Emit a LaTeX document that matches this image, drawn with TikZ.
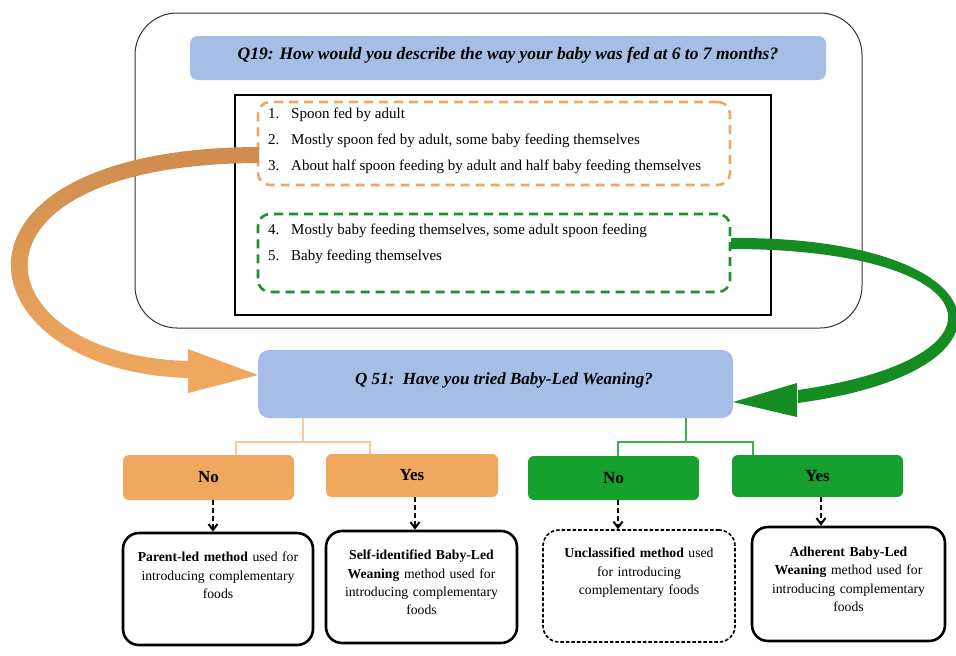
\documentclass[tikz,border=0pt]{standalone}
\usepackage{fontspec}
\setmainfont{Liberation Serif}
\usetikzlibrary{arrows.meta}
\definecolor{qblue}{HTML}{A6BEE6}
\definecolor{orng}{HTML}{F0A860}
\definecolor{orngdark}{HTML}{CF8C4E}
\definecolor{grn}{HTML}{16A02E}
\definecolor{grndark}{HTML}{148C22}
\definecolor{orngline}{HTML}{F6C9A0}
\definecolor{grnline}{HTML}{3CB050}
\definecolor{grndash}{HTML}{1E9030}
\tikzset{
  qbox/.style={fill=qblue, draw=none, rounded corners=8},
  ansbox/.style={draw=none, rounded corners=6, font=\fontsize{17}{20}\selectfont\bfseries},
  resbox/.style={draw=black, line width=2.6, rounded corners=16},
  restext/.style={anchor=north, text width=185, align=center, font=\fontsize{13.7}{18.2}\selectfont, inner sep=0},
  itemtext/.style={anchor=west, inner sep=0, font=\fontsize{15}{18}\selectfont},
  dasharrow/.style={draw=black, line width=2, dash pattern=on 5 off 3, -{Straight Barb[length=6, width=9, line width=2]}},
  optbox/.style={line width=2.6, dash pattern=on 9 off 6, rounded corners=12},
}
\begin{document}
\begin{tikzpicture}[x=1pt,y=-1pt]
\useasboundingbox (0,0) rectangle (956,656);
\fill[white] (0,0) rectangle (956,656);

% top panel
\node[draw=black!80, line width=1, rounded corners=42, minimum width=727, minimum height=315] (outer) at (498.5,170.5) {};
\node[qbox, minimum width=636, minimum height=44] (q19) at (508,58) {};
\node[font=\fontsize{17.5}{20}\selectfont\bfseries\itshape, inner sep=0] (q19t) at (508,55) {Q19: How would you describe the way your baby was fed at 6 to 7 months?};
\node[draw=black, line width=2.6, minimum width=536, minimum height=220] (inner) at (503,205) {};
\node[optbox, draw=orng, minimum width=472, minimum height=83] (obox) at (494,143.5) {};
\node[optbox, draw=grndash, minimum width=472, minimum height=78] (gbox) at (494,253) {};
\node[itemtext] (i1) at (268,115) {\makebox[23pt][l]{1.}Spoon fed by adult};
\node[itemtext] (i2) at (268,141) {\makebox[23pt][l]{2.}Mostly spoon fed by adult, some baby feeding themselves};
\node[itemtext] (i3) at (268,167) {\makebox[23pt][l]{3.}About half spoon feeding by adult and half baby feeding themselves};
\node[itemtext] (i4) at (268,231) {\makebox[23pt][l]{4.}Mostly baby feeding themselves, some adult spoon feeding};
\node[itemtext] (i5) at (268,257) {\makebox[23pt][l]{5.}Baby feeding themselves};

% Q51
\node[qbox, rounded corners=11, minimum width=475, minimum height=68] (q51) at (495.5,384) {};
\node[font=\fontsize{17}{20}\selectfont\bfseries\itshape, inner sep=0] (q51t) at (504,380) {Q 51:\ \ Have you tried Baby-Led Weaning?};

% big curved block arrows
\shade[top color=orngdark, bottom color=orng]
  (259,147) .. controls (-80,148) and (-40,372) .. (189,378)
  -- (189,361) .. controls (-20,356) and (-55,164) .. (259,163) -- cycle;
\fill[orng] (188,349) -- (258,375) -- (188,393) -- cycle;
\fill[grndark]
  (731,238) .. controls (1000,236) and (1040,370) .. (798,403)
  -- (798,390) .. controls (1025,357) and (988,249) .. (731,249) -- cycle;
\fill[grndark] (797,383) -- (733,402) -- (797,417) -- cycle;

% answer boxes
\node[ansbox, fill=orng, minimum width=171, minimum height=45] (ono) at (208.5,477.5) {No};
\node[ansbox, fill=orng, minimum width=172, minimum height=43] (oyes) at (412,475.5) {Yes};
\node[ansbox, fill=grn, minimum width=171, minimum height=44] (gno) at (613.5,478) {No};
\node[ansbox, fill=grn, minimum width=171, minimum height=42] (gyes) at (817.5,476) {Yes};

% tree connectors
\coordinate (ob) at (303,442);
\coordinate (gb) at (686,442);
\draw[orngline, line width=1.2] (q51.south -| ob) -- (ob);
\draw[orngline, line width=1.2] (ob) -| ([xshift=27.5]ono.north);
\draw[orngline, line width=1.2] (ob) -| ([xshift=-42]oyes.north);
\draw[grnline, line width=1.2] (q51.south -| gb) -- (gb);
\draw[grnline, line width=1.2] (gb) -| ([xshift=4.5]gno.north);
\draw[grnline, line width=1.2] (gb) -| ([xshift=-64.5]gyes.north);

% result boxes
\node[resbox, minimum width=190, minimum height=112] (r1) at (218,589) {};
\node[resbox, minimum width=191, minimum height=112] (r2) at (421.5,587) {};
\node[resbox, line width=1.6, dash pattern=on 3.5 off 2, minimum width=192, minimum height=112] (r3) at (639,586) {};
\node[resbox, minimum width=193, minimum height=114] (r4) at (848.5,584) {};

\node[restext] (r1t) at (218,552) {\textbf{Parent-led method} used for\\ introducing complementary\\ foods};
\node[restext] (r2t) at (421.5,550) {\textbf{Self-identified Baby-Led}\\ \textbf{Weaning} method used for\\ introducing complementary\\ foods};
\node[restext] (r3t) at (639,548) {\textbf{Unclassified method} used\\ for introducing\\ complementary foods};
\node[restext] (r4t) at (848.5,547) {\textbf{Adherent Baby-Led}\\ \textbf{Weaning} method used for\\ introducing complementary\\ foods};

% dashed arrows
\draw[dasharrow] ([xshift=4.5]ono.south) -- ([xshift=4.5]ono.south |- r1.north);
\draw[dasharrow] ([xshift=3]oyes.south) -- ([xshift=3]oyes.south |- r2.north);
\draw[dasharrow] ([xshift=4.5]gno.south) -- ([xshift=4.5]gno.south |- r3.north);
\draw[dasharrow] ([xshift=3.5]gyes.south) -- ([xshift=3.5]gyes.south |- r4.north);
\end{tikzpicture}
\end{document}
